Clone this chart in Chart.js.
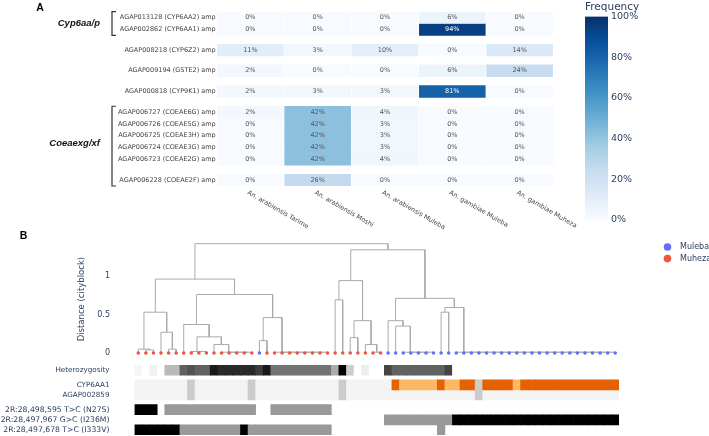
<!DOCTYPE html>
<html>
<head>
<meta charset="utf-8">
<script src="https://cdn.jsdelivr.net/npm/chart.js@4.4.1/dist/chart.umd.min.js"></script>
<style>
    body { margin: 0; background: #fff; }
    #wrap { position: relative; width: 709px; height: 436px; overflow: hidden; }
    canvas { position: absolute; }
</style>
</head>
<body>
<div id="wrap">
    <canvas id="heatmap" width="709" height="250" style="left:0;top:0"></canvas>
    <canvas id="colorbar" width="75" height="226" style="left:585px;top:0"></canvas>
    <canvas id="dendro" width="709" height="118" style="left:0;top:240px"></canvas>
    <canvas id="tracks" width="709" height="78" style="left:0;top:358px"></canvas>
</div>
<script>
// ---- Panel A: amplification frequencies ----
const populations = [
    "An. arabiensis Tarime",
    "An. arabiensis Moshi",
    "An. arabiensis Muleba",
    "An. gambiae Muleba",
    "An. gambiae Muheza",
];
const geneLabels = [
    "AGAP013128 (CYP6AA2) amp",
    "AGAP002862 (CYP6AA1) amp",
    "AGAP008218 (CYP6Z2) amp",
    "AGAP009194 (GSTE2) amp",
    "AGAP000818 (CYP9K1) amp",
    "AGAP006727 (COEAE6G) amp",
    "AGAP006726 (COEAE5G) amp",
    "AGAP006725 (COEAE3H) amp",
    "AGAP006724 (COEAE3G) amp",
    "AGAP006723 (COEAE2G) amp",
    "AGAP006228 (COEAE2F) amp",
];
const ampFreq = [
    [0, 0, 0, 6, 0],
    [0, 0, 0, 94, 0],
    [11, 3, 10, 0, 14],
    [2, 0, 0, 6, 24],
    [2, 3, 3, 81, 0],
    [2, 42, 4, 0, 0],
    [0, 42, 3, 0, 0],
    [0, 42, 3, 0, 0],
    [0, 42, 3, 0, 0],
    [0, 42, 4, 0, 0],
    [0, 26, 0, 0, 0],
];
const geneGroups = [[0, 1], [2], [3], [4], [5, 6, 7, 8, 9], [10]];
const geneBrackets = [
    { label: "Cyp6aa/p", rows: [0, 1] },
    { label: "Coeaexg/xf", rows: [5, 10] },
];
const freqTicks = [0, 20, 40, 60, 80, 100];

// ---- Panel B: dendrogram and tracks ----
// L = Muleba, Z = Muheza, in leaf order
const leafPop = "ZZZZZZZZ ZZZZZZZZ LZZZZZZZ ZZZZZZZZ ZLLLLLLL LLLLLLLL LLLLLLLL LLLLLLLL"
    .replace(/ /g, "").split("");
const popNames = { L: "Muleba", Z: "Muheza" };
// linkage: [child a, child b, distance]; new nodes numbered from leaf count up
const merges = [
    [1, 2, 0.04], [0, 64, 0.05], [4, 5, 0.05], [3, 66, 0.27], [65, 67, 0.53],
    [8, 9, 0.02], [7, 69, 0.02],
    [14, 15, 0.01], [13, 71, 0.01], [12, 72, 0.01], [11, 73, 0.01], [10, 74, 0.11],
    [70, 75, 0.21], [6, 76, 0.37], [16, 17, 0.16],
    [24, 25, 0.01], [23, 79, 0.01], [22, 80, 0.01], [21, 81, 0.01], [20, 82, 0.01],
    [19, 83, 0.01], [18, 84, 0.01],
    [78, 85, 0.46], [77, 86, 0.76], [68, 87, 0.96],
    [26, 27, 0.69], [28, 29, 0.2], [31, 32, 0.01], [30, 91, 0.11], [90, 92, 0.42],
    [89, 93, 0.94],
    [38, 39, 0.01], [37, 95, 0.01], [36, 96, 0.01], [35, 97, 0.01], [34, 98, 0.35],
    [33, 99, 0.42], [40, 41, 0.53],
    [62, 63, 0.01], [61, 102, 0.01], [60, 103, 0.01], [59, 104, 0.01], [58, 105, 0.01],
    [57, 106, 0.01], [56, 107, 0.01], [55, 108, 0.01], [54, 109, 0.01], [53, 110, 0.01],
    [52, 111, 0.01], [51, 112, 0.01], [50, 113, 0.01], [49, 114, 0.01], [48, 115, 0.01],
    [47, 116, 0.01], [46, 117, 0.01], [45, 118, 0.01], [44, 119, 0.01], [43, 120, 0.01],
    [42, 121, 0.01],
    [101, 122, 0.59], [100, 123, 0.71], [94, 124, 1.34], [88, 125, 1.42],
];
const distTicks = [0, 0.5, 1];

const heterozygosity = [
    0.04, 0, 0.05, 0, 0.27, 0.27, 0.62, 0.68,
    0.62, 0.62, 0.9, 0.84, 0.84, 0.84, 0.84, 0.84,
    0.76, 0.9, 0.55, 0.55, 0.55, 0.55, 0.55, 0.55,
    0.55, 0.55, 0.33, 1.0, 0.2, 0, 0.07, 0,
    0, 0.73, 0.62, 0.62, 0.62, 0.62, 0.62, 0.62,
    0.62, 0.73, 0, 0, 0, 0, 0, 0,
    0, 0, 0, 0, 0, 0, 0, 0,
    0, 0, 0, 0, 0, 0, 0, 0,
];
// 0 none, 1 light dup, 2 dup, 3 no call
const cyp6aa1 = "00000003 00000003 00000000 00030000 00211111 21122322 22122222 22222222";
const agap002859 = "00000003 00000003 00000000 00030000 00000000 00000300 00000000 00000000";
// 0 ref, 1 het, 2 hom alt
const snpN27S = "22201111 11111111 00111111 11000000 00000000 00000000 00000000 00000000";
const snpI236M = "00000000 00000000 00000000 00000000 01111111 11222222 22222222 22222222";
const snpI333V = "22222211 11111121 11111111 11000000 00000000 10000000 00000000 00000000";
const trackLabels = [
    "Heterozygosity",
    "CYP6AA1",
    "AGAP002859",
    "2R:28,498,595 T>C (N27S)",
    "2R:28,497,967 G>C (I236M)",
    "2R:28,497,678 T>C (I333V)",
];
const trackGroups = [[0], [1, 2], [3, 4, 5]];

const FONT = '"DejaVu Sans", Verdana, sans-serif';
const LABEL_COLOR = "#2a3f5f";
const BLUES = [
    [247, 251, 255], [222, 235, 247], [198, 219, 239], [158, 202, 225], [107, 174, 214],
    [66, 146, 198], [33, 113, 181], [8, 81, 156], [8, 48, 107],
];
const popColors = { L: "#636efa", Z: "#ef553b" };
const cypColors = ["#f3f3f3", "#fdb863", "#e66101", "#cccccc"];
const snpColors = ["rgba(0,0,0,0)", "#999999", "#000000"];

function blues(v) {
    const t = Math.max(0, Math.min(1, v / 100)) * (BLUES.length - 1);
    const i = Math.min(BLUES.length - 2, Math.floor(t));
    const f = t - i;
    const c = BLUES[i].map((a, k) => Math.round(a + (BLUES[i + 1][k] - a) * f));
    return `rgb(${c[0]},${c[1]},${c[2]})`;
}

function groupPositions(groups, gap) {
    const pos = [];
    let y = 0;
    groups.forEach((g, gi) => {
        if (gi > 0) y += gap;
        g.forEach((r) => { pos[r] = y; y += 1; });
    });
    return pos;
}

const codes = (s) => s.replace(/ /g, "").split("").map(Number);

// fixed axis width, and no extra room above/below for the tick labels
const fixWidth = (w) => (s) => {
    s.width = w;
    s.paddingTop = 0;
    s.paddingBottom = 0;
};

// ---- Heatmap (panel A) ----
const rowPos = groupPositions(geneGroups, 0.75);

const heatDecor = {
    id: "heatDecor",
    afterDatasetsDraw(chart) {
        const { ctx, chartArea, scales } = chart;
        ctx.save();
        // cell values
        ctx.font = `6.5px ${FONT}`;
        ctx.textAlign = "center";
        ctx.textBaseline = "middle";
        chart.data.datasets.forEach((ds, di) => {
            chart.getDatasetMeta(di).data.forEach((bar, i) => {
                const v = ampFreq[di][i];
                ctx.fillStyle = v >= 60 ? "#ffffff" : "#555555";
                ctx.fillText(v + "%", bar.x, (bar.y + bar.base) / 2);
            });
        });
        // population labels, slanted
        ctx.fillStyle = "#444";
        ctx.textAlign = "left";
        ctx.textBaseline = "top";
        populations.forEach((p, i) => {
            ctx.save();
            ctx.translate(scales.x.getPixelForValue(i) - 1, chartArea.bottom + 3.5);
            ctx.rotate(Math.PI / 6);
            ctx.fillText(p, 0, 0);
            ctx.restore();
        });
        // gene family brackets
        ctx.strokeStyle = "#333";
        ctx.lineWidth = 1.2;
        geneBrackets.forEach((b) => {
            const top = scales.y.getPixelForValue(rowPos[b.rows[0]] - 0.5);
            const bottom = scales.y.getPixelForValue(rowPos[b.rows[1]] + 0.5);
            ctx.beginPath();
            ctx.moveTo(116, top);
            ctx.lineTo(112, top);
            ctx.lineTo(112, bottom);
            ctx.lineTo(116, bottom);
            ctx.stroke();
            let mid = 0;
            for (let r = b.rows[0]; r <= b.rows[1]; r++) mid += rowPos[r];
            mid /= b.rows[1] - b.rows[0] + 1;
            ctx.fillStyle = "#111";
            ctx.font = 'italic bold 9.5px "Liberation Sans", Arial, sans-serif';
            ctx.textAlign = "right";
            ctx.textBaseline = "middle";
            ctx.fillText(b.label, 100, scales.y.getPixelForValue(mid));
        });
        // panel letters
        ctx.fillStyle = "#000";
        ctx.font = 'bold 10.5px "Liberation Sans", Arial, sans-serif';
        ctx.textAlign = "center";
        ctx.textBaseline = "middle";
        ctx.fillText("A", 40, 8);
        ctx.fillText("B", 23.5, 236);
        ctx.restore();
    },
};

new Chart(document.getElementById("heatmap"), {
    type: "bar",
    data: {
        labels: populations,
        datasets: ampFreq.map((row, r) => ({
            label: geneLabels[r],
            data: row.map(() => [rowPos[r] - 0.5, rowPos[r] + 0.5]),
            backgroundColor: row.map(blues),
            grouped: false,
            categoryPercentage: 1,
            barPercentage: 0.98,
            inflateAmount: 0.3,
        })),
    },
    options: {
        responsive: false,
        animation: false,
        events: [],
        layout: { padding: { left: 0, right: 155.7, top: 11.7, bottom: 64 } },
        plugins: { legend: { display: false }, tooltip: { enabled: false } },
        scales: {
            x: { display: false },
            y: {
                type: "linear",
                reverse: true,
                min: -0.5,
                max: rowPos[rowPos.length - 1] + 0.5,
                afterBuildTicks: (s) => { s.ticks = rowPos.map((v) => ({ value: v })); },
                afterFit: fixWidth(216.7),
                grid: { display: false, drawTicks: false },
                border: { display: false },
                ticks: {
                    autoSkip: false,
                    padding: 1,
                    color: "#444",
                    font: { family: FONT, size: 6.5 },
                    callback: (v, i) => geneLabels[i],
                },
            },
        },
    },
    plugins: [heatDecor],
});

// ---- Colour bar ----
new Chart(document.getElementById("colorbar"), {
    type: "bar",
    data: {
        labels: [""],
        datasets: [{
            data: [freqTicks[freqTicks.length - 1]],
            categoryPercentage: 1,
            barPercentage: 1,
            backgroundColor: (c) => {
                const area = c.chart.chartArea;
                if (!area) return "#6baed6";
                const g = c.chart.ctx.createLinearGradient(0, area.bottom, 0, area.top);
                BLUES.forEach((col, i) => g.addColorStop(i / (BLUES.length - 1), `rgb(${col.join(",")})`));
                return g;
            },
        }],
    },
    options: {
        responsive: false,
        animation: false,
        events: [],
        layout: { padding: { left: 0, right: 0, top: 0, bottom: 6 } },
        plugins: {
            legend: { display: false },
            tooltip: { enabled: false },
            title: {
                display: true,
                text: "Frequency",
                align: "start",
                color: LABEL_COLOR,
                font: { family: FONT, size: 10.5, weight: "normal" },
                padding: { top: 1, bottom: 3 },
            },
        },
        scales: {
            x: { display: false },
            y: {
                position: "right",
                min: freqTicks[0],
                max: freqTicks[freqTicks.length - 1],
                afterBuildTicks: (s) => { s.ticks = freqTicks.map((v) => ({ value: v })); },
                afterFit: fixWidth(52),
                grid: { display: false, drawTicks: false },
                border: { display: false },
                ticks: {
                    padding: 3,
                    color: LABEL_COLOR,
                    font: { family: FONT, size: 9.5 },
                    callback: (v) => v + "%",
                },
            },
        },
    },
});

// ---- Dendrogram ----
const nodes = leafPop.map((p, i) => ({ x: i, h: 0 }));
const links = [];
merges.forEach(([a, b, h]) => {
    const A = nodes[a];
    const B = nodes[b];
    nodes.push({ x: (A.x + B.x) / 2, h });
    links.push([
        { x: A.x, y: A.h }, { x: A.x, y: h },
        { x: B.x, y: h }, { x: B.x, y: B.h },
    ]);
});

const leafSet = (code) => ({
    label: popNames[code],
    data: leafPop.map((p, i) => (p === code ? { x: i, y: 0 } : null)).filter(Boolean),
    backgroundColor: popColors[code],
    borderWidth: 0,
    pointRadius: 1.8,
    pointHoverRadius: 0,
});

const dendroLegend = {
    id: "dendroLegend",
    afterDraw(chart) {
        const { ctx } = chart;
        ctx.save();
        ctx.font = `8px ${FONT}`;
        ctx.textAlign = "left";
        ctx.textBaseline = "middle";
        [0, 1].forEach((di) => {
            const ds = chart.data.datasets[di];
            const y = 7 + di * 11.6;
            ctx.fillStyle = ds.backgroundColor;
            ctx.beginPath();
            ctx.arc(667.5, y, 3.8, 0, Math.PI * 2);
            ctx.fill();
            ctx.fillStyle = LABEL_COLOR;
            ctx.fillText(ds.label, 680, y);
        });
        ctx.restore();
    },
};

new Chart(document.getElementById("dendro"), {
    type: "scatter",
    data: {
        datasets: [
            leafSet("L"),
            leafSet("Z"),
            ...links.map((pts) => ({
                data: pts,
                showLine: true,
                borderColor: "#aaaaaa",
                borderWidth: 1,
                pointRadius: 0,
                pointHoverRadius: 0,
            })),
        ],
    },
    options: {
        responsive: false,
        animation: false,
        events: [],
        layout: { autoPadding: false, padding: { left: 73, right: 90, top: 1.35, bottom: 1.15 } },
        plugins: { legend: { display: false }, tooltip: { enabled: false } },
        scales: {
            x: { type: "linear", min: -0.5, max: leafPop.length - 0.5, display: false },
            y: {
                min: -0.05,
                max: 1.45,
                afterBuildTicks: (s) => { s.ticks = distTicks.map((v) => ({ value: v })); },
                afterFit: fixWidth(61.5),
                grid: { display: false, drawTicks: false },
                border: { display: false },
                ticks: {
                    padding: 24.5,
                    color: LABEL_COLOR,
                    font: { family: FONT, size: 8 },
                    callback: (v) => String(v),
                },
                title: {
                    display: true,
                    text: "Distance (cityblock)",
                    color: LABEL_COLOR,
                    font: { family: FONT, size: 8.5 },
                    padding: { top: 4, bottom: 0 },
                },
            },
        },
    },
    plugins: [dendroLegend],
});

// ---- Tracks under the dendrogram ----
const trackPos = groupPositions(trackGroups, 0.45);
const hetColor = (v) => {
    const g = Math.round(255 * (1 - v));
    return `rgb(${g},${g},${g})`;
};
const trackColors = [
    heterozygosity.map(hetColor),
    codes(cyp6aa1).map((c) => cypColors[c]),
    codes(agap002859).map((c) => cypColors[c]),
    codes(snpN27S).map((c) => snpColors[c]),
    codes(snpI236M).map((c) => snpColors[c]),
    codes(snpI333V).map((c) => snpColors[c]),
];

new Chart(document.getElementById("tracks"), {
    type: "bar",
    data: {
        datasets: trackColors.map((colors, r) => ({
            label: trackLabels[r],
            data: leafPop.map((p, i) => ({ x: i, y: [trackPos[r] - 0.5, trackPos[r] + 0.5] })),
            backgroundColor: colors,
            grouped: false,
            categoryPercentage: 1,
            barPercentage: 1,
        })),
    },
    options: {
        responsive: false,
        animation: false,
        events: [],
        layout: { padding: { left: 0, right: 90, top: 7, bottom: 1 } },
        plugins: { legend: { display: false }, tooltip: { enabled: false } },
        scales: {
            x: {
                type: "linear",
                offset: false,
                min: -0.5,
                max: leafPop.length - 0.5,
                display: false,
                afterBuildTicks: (s) => { s.ticks = leafPop.map((p, i) => ({ value: i })); },
            },
            y: {
                type: "linear",
                reverse: true,
                min: -0.5,
                max: trackPos[trackPos.length - 1] + 0.5,
                afterBuildTicks: (s) => { s.ticks = trackPos.map((v) => ({ value: v })); },
                afterFit: fixWidth(134.5),
                grid: { display: false, drawTicks: false },
                border: { display: false },
                ticks: {
                    autoSkip: false,
                    padding: 25,
                    color: LABEL_COLOR,
                    font: (c) => ({ family: FONT, size: c.index >= 3 ? 7.7 : 7.2 }),
                    callback: (v, i) => trackLabels[i],
                },
            },
        },
    },
});
</script>
</body>
</html>
